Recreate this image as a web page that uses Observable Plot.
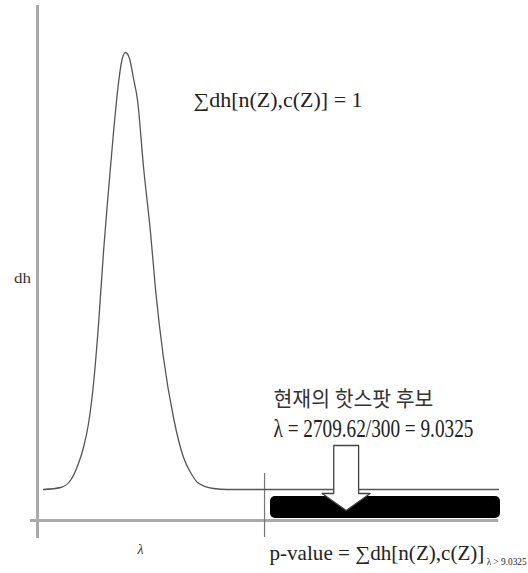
<!DOCTYPE html>
<html>
<head>
<meta charset="utf-8">
<script src="https://cdn.jsdelivr.net/npm/d3@7"></script>
<script src="https://cdn.jsdelivr.net/npm/@observablehq/plot@0.6"></script>
<style>
  html, body { margin: 0; padding: 0; background: #fff; }
  #chart svg { display: block; background: #fff; }
</style>
</head>
<body>
<div id="chart"></div>
<script>
// Density curve dh(λ)
const lambdaValues = [0.24, 0.92, 1.31, 1.63, 1.83, 2.03, 2.23, 2.43, 2.63, 2.79, 3.02, 3.22, 3.34, 3.50, 3.66, 3.82, 3.98, 4.22, 4.50, 4.70, 5.01, 5.41, 5.81, 6.09, 6.37, 7.00, 7.56, 18.34];
const dhValues     = [0.031, 0.033, 0.040, 0.057, 0.073, 0.097, 0.137, 0.197, 0.270, 0.320, 0.387, 0.437, 0.458, 0.468, 0.462, 0.442, 0.420, 0.353, 0.287, 0.230, 0.163, 0.103, 0.063, 0.048, 0.038, 0.032, 0.031, 0.031];

// Key values
const hotspotLambda = 9.0325;          // λ = 2709.62/300
const tailRange = [9.27, 18.42];       // p-value tail (black bar)
const tailDh = [0.002, 0.024];
const arrowLambda = 12.28;             // arrow pointing at the tail

// Texts
const labels = {
  y: "dh",
  x: "λ",
  sum: "∑dh[n(Z),c(Z)] = 1",
  candidate: "현재의 핫스팟 후보",
  lambdaEq: "λ = 2709.62/300 = 9.0325",
  pvalue: "p-value = ∑dh[n(Z),c(Z)]",
  pvalueSub: "λ > 9.0325"
};

const curveData = lambdaValues.map((l, i) => ({lambda: l, dh: dhValues[i]}));

// arrow outline (data units)
const arrowShaftHalf = 0.495, arrowHeadHalf = 0.955, arrowTop = 0.075, arrowBase = 0.027, arrowTip = 0.010;
const arrowPts = [
  [arrowLambda - arrowHeadHalf, arrowBase], [arrowLambda - arrowShaftHalf, arrowBase], [arrowLambda - arrowShaftHalf, arrowTop],
  [arrowLambda + arrowShaftHalf, arrowTop], [arrowLambda + arrowShaftHalf, arrowBase], [arrowLambda + arrowHeadHalf, arrowBase],
  [arrowLambda, arrowTip], [arrowLambda - arrowHeadHalf, arrowBase]
];

const serif = "'Liberation Serif', 'DejaVu Serif', serif";
const kfont = "'Noto Sans CJK KR', sans-serif";

const plot = Plot.plot({
  width: 528,
  height: 573,
  marginLeft: 37,
  marginRight: 28,
  marginTop: 20,
  marginBottom: 53,
  x: {domain: [0, 18.42], axis: null},
  y: {domain: [0, 0.5], axis: null},
  marks: [
    // axes
    Plot.ruleY([0], {x1: -0.28, x2: 18.35, stroke: "#aaa", strokeWidth: 3}),
    Plot.ruleX([0], {y1: -0.018, y2: 0.515, stroke: "#aaa", strokeWidth: 3}),
    Plot.ruleX([hotspotLambda], {y1: -0.017, y2: 0.047, stroke: "#777", strokeWidth: 1.2}),
    // density curve
    Plot.line(curveData, {x: "lambda", y: "dh", curve: "monotone-x", stroke: "#555", strokeWidth: 1.3}),
    // tail bar
    Plot.rect([0], {x1: tailRange[0], x2: tailRange[1], y1: tailDh[0], y2: tailDh[1], fill: "#000", rx: 5}),
    // arrow
    Plot.line(arrowPts, {x: d => d[0], y: d => d[1], fill: "#fff", stroke: "#444", strokeWidth: 1.3, curve: "linear"}),
    // texts
    Plot.text([labels.y], {x: -0.597, y: 0.242, text: d => d, fontFamily: serif, fontSize: 15, fill: "#333", className: "t-y"}),
    Plot.text([labels.x], {x: 4.10, y: -0.029, text: d => d, fontFamily: serif, fontSize: 14, fill: "#333", fontStyle: "italic"}),
    Plot.text([labels.sum], {x: 6.21, y: 0.42, text: d => d, textAnchor: "start", fontFamily: serif, fontSize: 20, fill: "#222", className: "t-sum"}),
    Plot.text([labels.candidate], {x: 9.39, y: 0.121, text: d => d, textAnchor: "start", fontFamily: kfont, fontSize: 21, fill: "#333", className: "t-cand"}),
    Plot.text([labels.lambdaEq], {x: 9.39, y: 0.092, text: d => d, textAnchor: "start", fontFamily: serif, fontSize: 25, fill: "#222", className: "t-leq"}),
    Plot.text([labels.pvalue], {x: 9.23, y: -0.033, text: d => d, textAnchor: "start", fontFamily: serif, fontSize: 20, fill: "#222", className: "t-pv"}),
    Plot.text([labels.pvalueSub], {x: 17.87, y: -0.041, text: d => d, textAnchor: "start", fontFamily: serif, fontSize: 10, fill: "#222", className: "t-sub"})
  ]
});

document.getElementById("chart").appendChild(plot);

// squeeze texts horizontally to the widths seen in the picture
const widths = {"t-y": 17, "t-sum": 169, "t-cand": 160, "t-leq": 200, "t-pv": 215, "t-sub": 40};
for (const [cls, w] of Object.entries(widths)) {
  d3.select(plot).selectAll(`g.${cls} text`).each(function() {
    const natural = this.getComputedTextLength();
    if (!natural) return;
    const sx = w / natural;
    const t = this.getAttribute("transform") || "";
    this.setAttribute("transform", `${t} scale(${sx},1)`);
  });
}
</script>
</body>
</html>
